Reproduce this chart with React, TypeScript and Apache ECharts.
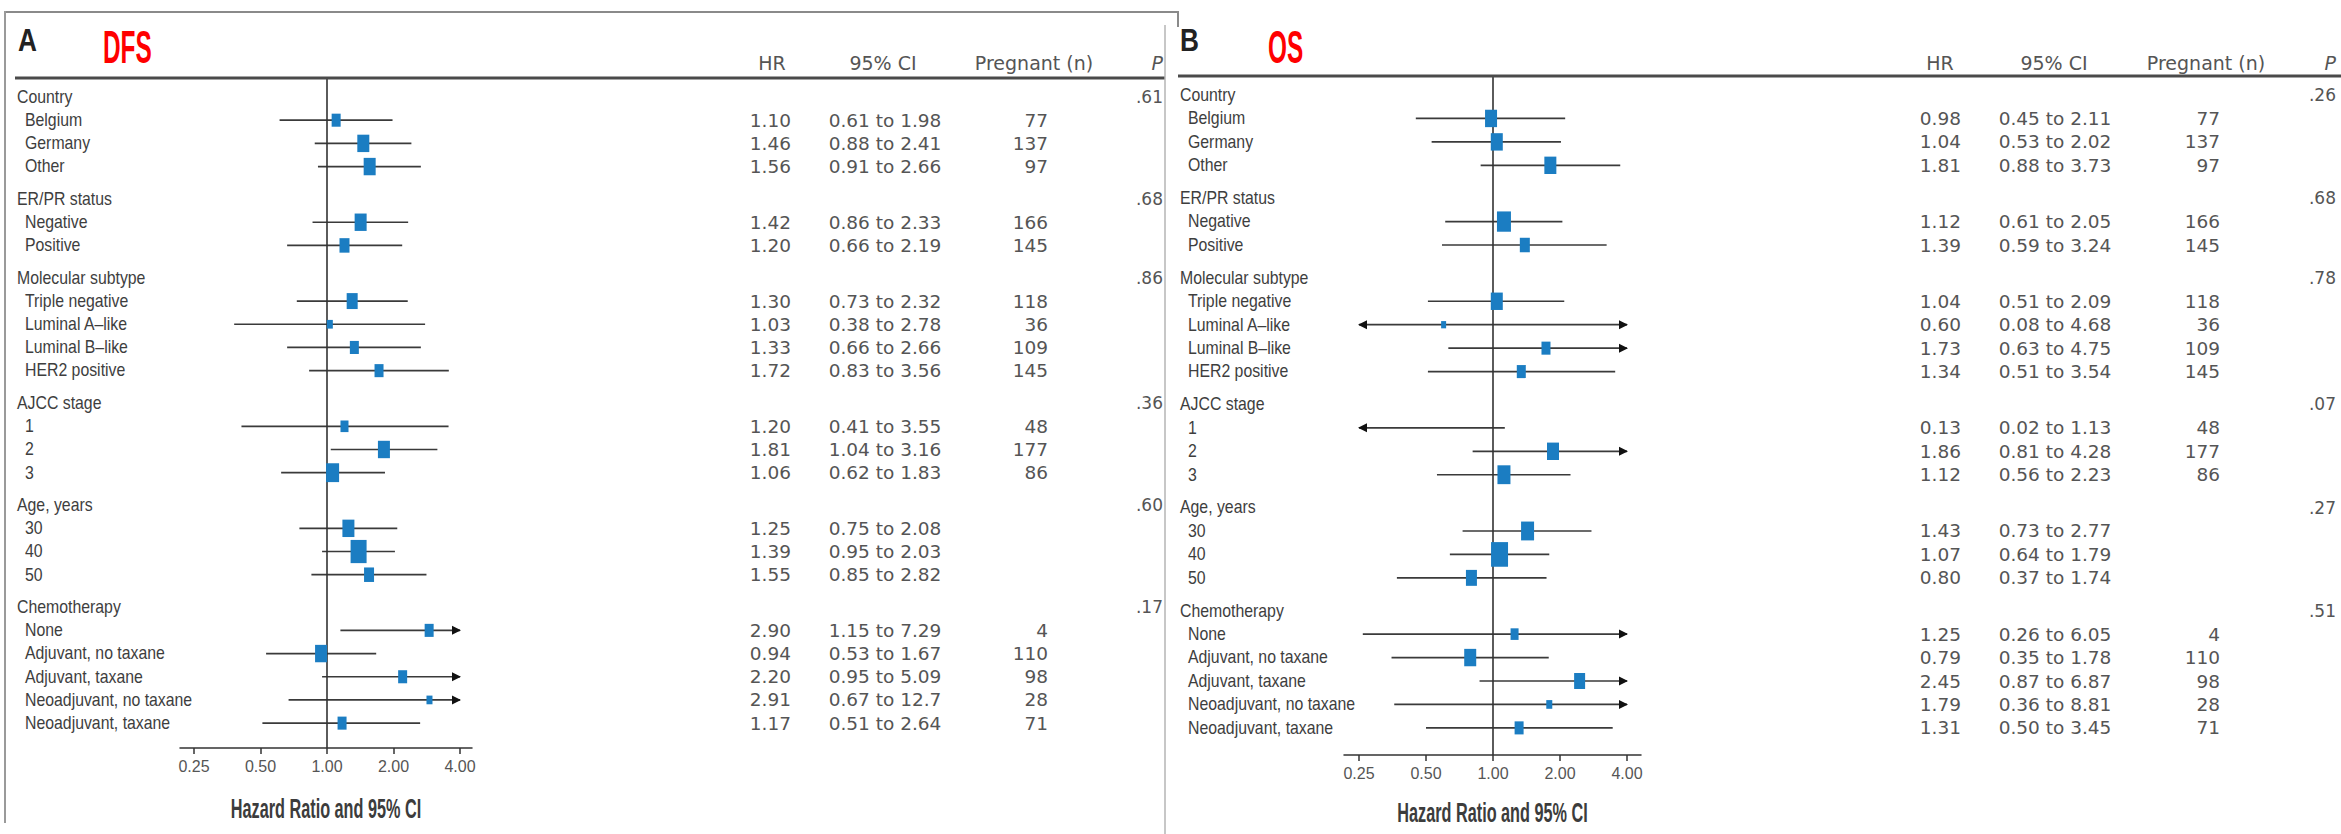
import React, { useEffect, useRef } from "react";
import * as echarts from "echarts";

// ---------------- DATA ----------------
const groups = ["Country", "ER/PR status", "Molecular subtype", "AJCC stage", "Age, years", "Chemotherapy"];
const subgroups = [
  ["Belgium", "Germany", "Other"],
  ["Negative", "Positive"],
  ["Triple negative", "Luminal A\u2013like", "Luminal B\u2013like", "HER2 positive"],
  ["1", "2", "3"],
  ["30", "40", "50"],
  ["None", "Adjuvant, no taxane", "Adjuvant, taxane", "Neoadjuvant, no taxane", "Neoadjuvant, taxane"],
];
const pregnantN: (number | null)[] = [77, 137, 97, 166, 145, 118, 36, 109, 145, 48, 177, 86, null, null, null, 4, 110, 98, 28, 71];

const dfsHR = [1.10, 1.46, 1.56, 1.42, 1.20, 1.30, 1.03, 1.33, 1.72, 1.20, 1.81, 1.06, 1.25, 1.39, 1.55, 2.90, 0.94, 2.20, 2.91, 1.17];
const dfsLow = [0.61, 0.88, 0.91, 0.86, 0.66, 0.73, 0.38, 0.66, 0.83, 0.41, 1.04, 0.62, 0.75, 0.95, 0.85, 1.15, 0.53, 0.95, 0.67, 0.51];
const dfsHigh = [1.98, 2.41, 2.66, 2.33, 2.19, 2.32, 2.78, 2.66, 3.56, 3.55, 3.16, 1.83, 2.08, 2.03, 2.82, 7.29, 1.67, 5.09, 12.7, 2.64];
const dfsP = [".61", ".68", ".86", ".36", ".60", ".17"];
const dfsWeight = [9, 12, 12, 12, 10, 11, 6, 9, 9, 8, 12, 13, 12, 16, 10, 9, 12, 9, 6, 9];

const osHR = [0.98, 1.04, 1.81, 1.12, 1.39, 1.04, 0.60, 1.73, 1.34, 0.13, 1.86, 1.12, 1.43, 1.07, 0.80, 1.25, 0.79, 2.45, 1.79, 1.31];
const osLow = [0.45, 0.53, 0.88, 0.61, 0.59, 0.51, 0.08, 0.63, 0.51, 0.02, 0.81, 0.56, 0.73, 0.64, 0.37, 0.26, 0.35, 0.87, 0.36, 0.50];
const osHigh = [2.11, 2.02, 3.73, 2.05, 3.24, 2.09, 4.68, 4.75, 3.54, 1.13, 4.28, 2.23, 2.77, 1.79, 1.74, 6.05, 1.78, 6.87, 8.81, 3.45];
const osP = [".26", ".68", ".78", ".07", ".27", ".51"];
const osWeight = [12, 12, 12, 14, 10, 12, 5, 9, 9, 8, 12, 13, 13, 17, 11, 8, 12, 11, 6, 9];

const hrTicks = [0.25, 0.5, 1, 2, 4];
const columnHeaders = ["HR", "95% CI", "Pregnant (n)", "P"];
const axisTitle = "Hazard Ratio and 95% CI";

// ---------------- STYLE / LAYOUT ----------------
const LABEL_FONT = '"Liberation Sans", Arial, Helvetica, sans-serif';
const NUM_FONT = '"DejaVu Sans", Verdana, sans-serif';
const BOX_COLOR = "#1b7dc2";
const CI_COLOR = "#3a3a3a";
const RULE_COLOR = "#4a4a4a";
const GROUP_GAP = 1.4;

const panels = [
  {
    letter: "A", title: "DFS", hr: dfsHR, lo: dfsLow, hi: dfsHigh, p: dfsP, w: dfsWeight,
    gridLeft: 180, gridRight: 472, tickLoX: 194, tickHiX: 460, top: 79, bottom: 748,
    firstRowY: 97, rowPx: 23.19, labelX: 17, itemX: 25,
    hrX: 791, ciX: 885, nX: 1048, pX: 1163,
    hdrX: [772, 883, 1034, 1163], hdrY: 63,
    letterX: 18, titleX: 103, axisTitleY: 808,
    ruleX0: 15, ruleX1: 1165,
  },
  {
    letter: "B", title: "OS", hr: osHR, lo: osLow, hi: osHigh, p: osP, w: osWeight,
    gridLeft: 1344, gridRight: 1641, tickLoX: 1359, tickHiX: 1627, top: 77, bottom: 755,
    firstRowY: 95, rowPx: 23.44, labelX: 1180, itemX: 1188,
    hrX: 1961, ciX: 2055, nX: 2220, pX: 2336,
    hdrX: [1940, 2054, 2206, 2336], hdrY: 63,
    letterX: 1180, titleX: 1268, axisTitleY: 812,
    ruleX0: 1178, ruleX1: 2341,
  },
];

type Row = { label: string; header: boolean; pos: number; group: number; item: number };
function buildRows(): Row[] {
  const rows: Row[] = [];
  let pos = 0;
  let item = 0;
  groups.forEach((g, gi) => {
    if (gi > 0) pos += GROUP_GAP;
    rows.push({ label: g, header: true, pos, group: gi, item: -1 });
    subgroups[gi].forEach((s) => {
      pos += 1;
      rows.push({ label: s, header: false, pos, group: gi, item: item++ });
    });
  });
  return rows;
}

const fmtCI = (v: number) => (v >= 10 ? v.toFixed(1) : v.toFixed(2));

function txt(text: string, x: number, y: number, o: any) {
  return {
    type: "text",
    x,
    y,
    scaleX: o.scaleX ?? 1,
    silent: true,
    z: 20,
    style: {
      text,
      x: 0,
      y: 0,
      fill: o.color ?? "#444",
      fontSize: o.size ?? 16,
      fontFamily: o.family ?? LABEL_FONT,
      fontWeight: o.weight ?? "normal",
      fontStyle: o.style ?? "normal",
      align: o.align ?? "left",
      textAlign: o.align ?? "left",
      verticalAlign: "middle",
      textVerticalAlign: "middle",
    },
  };
}

function hRule(x1: number, x2: number, y: number, fill: string, t: number) {
  return { type: "rect", silent: true, z: 20, shape: { x: x1, y: y - t / 2, width: x2 - x1, height: t }, style: { fill } };
}
function vRule(x: number, y1: number, y2: number, fill: string, t: number) {
  return { type: "rect", silent: true, z: 20, shape: { x: x - t / 2, y: y1, width: t, height: y2 - y1 }, style: { fill } };
}

function buildOption() {
  const rows = buildRows();
  const itemRows = rows.filter((r) => !r.header);
  const grids: any[] = [];
  const xAxes: any[] = [];
  const yAxes: any[] = [];
  const series: any[] = [];
  const graphics: any[] = [];
  const tMin = hrTicks[0];
  const tMax = hrTicks[hrTicks.length - 1];

  panels.forEach((P, k) => {
    const pxPerUnit = (P.tickHiX - P.tickLoX) / Math.log2(tMax / tMin);
    const xMin = tMin * Math.pow(2, -(P.tickLoX - P.gridLeft) / pxPerUnit);
    const xMax = tMax * Math.pow(2, (P.gridRight - P.tickHiX) / pxPerUnit);
    const yMin = (P.top - P.firstRowY) / P.rowPx;
    grids.push({ left: P.gridLeft, width: P.gridRight - P.gridLeft, top: P.top, height: P.bottom - P.top, containLabel: false });
    xAxes.push({
      type: "log",
      logBase: 2,
      gridIndex: k,
      position: "bottom",
      min: xMin,
      max: xMax,
      axisLine: { show: true, onZero: false, lineStyle: { color: "#333", width: 1.5 } },
      axisTick: { show: true, customValues: hrTicks, length: 6, lineStyle: { color: "#333", width: 1.5 } },
      axisLabel: {
        show: true,
        customValues: hrTicks,
        margin: 10,
        color: "#555",
        fontSize: 16,
        fontFamily: LABEL_FONT,
        formatter: (v: number) => Number(v).toFixed(2),
      },
      splitLine: { show: false },
      minorTick: { show: false },
    });
    yAxes.push({
      type: "value",
      gridIndex: k,
      inverse: true,
      min: yMin,
      max: (P.bottom - P.firstRowY) / P.rowPx,
      show: false,
      splitLine: { show: false },
    });

    // Confidence intervals (with arrows when beyond the axis tick range)
    series.push({
      type: "custom",
      name: P.title + " 95% CI",
      xAxisIndex: k,
      yAxisIndex: k,
      clip: false,
      silent: true,
      z: 3,
      encode: { x: [0, 1], y: 2 },
      data: itemRows.map((r) => [P.lo[r.item], P.hi[r.item], r.pos]),
      renderItem: (params: any, api: any) => {
        const lo = api.value(0);
        const hi = api.value(1);
        const pos = api.value(2);
        const a = api.coord([Math.max(lo, tMin), pos]);
        const b = api.coord([Math.min(hi, tMax), pos]);
        const children: any[] = [
          { type: "line", shape: { x1: a[0], y1: a[1], x2: b[0], y2: b[1] }, style: { stroke: CI_COLOR, lineWidth: 1.7 } },
        ];
        if (hi > tMax) {
          children.push({
            type: "polygon",
            shape: { points: [[b[0] + 1, b[1]], [b[0] - 8, b[1] - 4.5], [b[0] - 8, b[1] + 4.5]] },
            style: { fill: "#111" },
          });
        }
        if (lo < tMin) {
          children.push({
            type: "polygon",
            shape: { points: [[a[0] - 1, a[1]], [a[0] + 8, a[1] - 4.5], [a[0] + 8, a[1] + 4.5]] },
            style: { fill: "#111" },
          });
        }
        return { type: "group", children };
      },
    });

    // Hazard-ratio boxes (+ reference line at HR = 1)
    series.push({
      type: "scatter",
      name: P.title + " HR",
      xAxisIndex: k,
      yAxisIndex: k,
      z: 5,
      symbol: "rect",
      symbolSize: (v: number[]) => [v[2], v[2] * 1.45],
      itemStyle: { color: BOX_COLOR, opacity: 1 },
      data: itemRows.map((r) => [P.hr[r.item], r.pos, P.w[r.item]]),
      markLine: {
        silent: true,
        symbol: "none",
        label: { show: false },
        lineStyle: { color: "#333", width: 1.6, type: "solid" },
        data: [{ xAxis: 1 }],
      },
    });

    // Table: labels, HR, CI, n, P
    series.push({
      type: "custom",
      name: P.title + " table",
      xAxisIndex: k,
      yAxisIndex: k,
      clip: false,
      silent: true,
      z: 6,
      encode: { x: 0, y: 1 },
      data: rows.map((r, ri) => [1, r.pos, ri]),
      renderItem: (params: any, api: any) => {
        const ri = api.value(2);
        const r = rows[ri];
        const y = api.coord([1, api.value(1)])[1];
        const children: any[] = [];
        const labelOpt = { size: 18, scaleX: 0.88, color: "#3e3e3e", family: LABEL_FONT };
        if (r.header) {
          children.push(txt(r.label, P.labelX, y, labelOpt));
          children.push(txt(P.p[r.group], P.pX, y, { size: 17, family: NUM_FONT, color: "#555", align: "right" }));
        } else {
          const i = r.item;
          children.push(txt(r.label, P.itemX, y, labelOpt));
          const numOpt = { size: 18.5, family: NUM_FONT, color: "#555" };
          children.push(txt(P.hr[i].toFixed(2), P.hrX, y, { ...numOpt, align: "right" }));
          children.push(txt(fmtCI(P.lo[i]) + " to " + fmtCI(P.hi[i]), P.ciX, y, { ...numOpt, align: "center" }));
          const n = pregnantN[i];
          if (n !== null && n !== undefined) children.push(txt(String(n), P.nX, y, { ...numOpt, align: "right" }));
        }
        return { type: "group", children };
      },
    });

    // Graphic texts: panel letter, title, column headers, axis title
    graphics.push(txt(P.letter, P.letterX, 40, { size: 32, weight: "bold", color: "#222", scaleX: 0.82 }));
    graphics.push(txt(P.title, P.titleX, 47, { size: 46, weight: "bold", color: "#ff0000", scaleX: 0.53 }));
    columnHeaders.forEach((h, hi) => {
      const isP = hi === columnHeaders.length - 1;
      graphics.push(
        txt(h, P.hdrX[hi], P.hdrY, {
          size: 19,
          family: NUM_FONT,
          color: "#555",
          align: isP ? "right" : "center",
          style: isP ? "italic" : "normal",
        })
      );
    });
    graphics.push(
      txt(axisTitle, (P.gridLeft + P.gridRight) / 2, P.axisTitleY, {
        size: 28,
        weight: "bold",
        color: "#3c3c3c",
        align: "center",
        scaleX: 0.58,
      })
    );
    // header rule under the column headers
    graphics.push(hRule(P.ruleX0, P.ruleX1, P.top - 1, RULE_COLOR, 3));
  });

  // Frames
  graphics.push(hRule(4, 1179, 12, "#8a8a8a", 2));
  graphics.push(vRule(1178, 11, 27, "#8a8a8a", 2));
  graphics.push(vRule(5, 11, 823, "#9a9a9a", 2));
  graphics.push(vRule(1165, 25, 834, "#b5b5b5", 1.5));

  return {
    animation: false,
    backgroundColor: "#ffffff",
    grid: grids,
    xAxis: xAxes,
    yAxis: yAxes,
    series,
    graphic: { elements: graphics },
  };
}

export default function App() {
  const ref = useRef<HTMLDivElement>(null);
  useEffect(() => {
    if (!ref.current) return;
    const chart = echarts.init(ref.current, undefined, { renderer: "svg" });
    chart.setOption(buildOption() as any);
    return () => chart.dispose();
  }, []);
  return (
    <div
      ref={ref}
      style={{ position: "fixed", left: 0, top: 0, width: 2341, height: 834, background: "#fff" }}
    />
  );
}
